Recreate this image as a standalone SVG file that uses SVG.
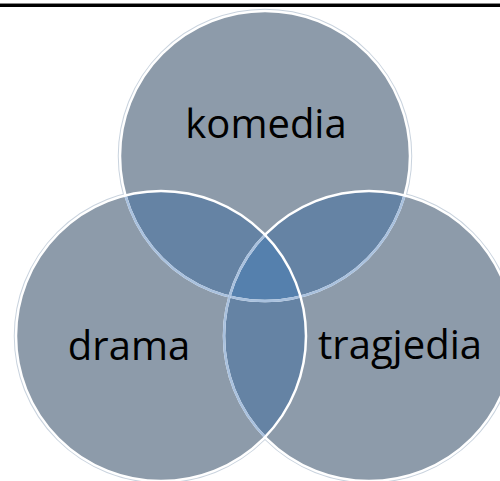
<svg xmlns="http://www.w3.org/2000/svg" width="500" height="481" viewBox="0 0 500 481">
<style>
.lbl{font-family:"Open Sans","Liberation Sans",sans-serif;font-size:40px;fill:#000;text-anchor:middle}
.halo{fill:none;stroke:#C9D3DE;stroke-width:4.5}
.ws{fill:none;stroke:#FFFFFF;stroke-width:2.5}
.bs{fill:none;stroke:#A9C1DE;stroke-width:2.5}
</style>
<defs>
<clipPath id="cT"><circle cx="265" cy="156" r="145"/></clipPath>
<clipPath id="cR"><circle cx="369" cy="336" r="145"/></clipPath>
<clipPath id="cL"><circle cx="161" cy="336" r="145"/></clipPath>
<clipPath id="cRL"><circle cx="369" cy="336" r="145"/><circle cx="161" cy="336" r="145"/></clipPath>
</defs>
<rect x="0" y="0" width="500" height="481" fill="#FFFFFF"/>
<rect x="0" y="3" width="500" height="1" fill="#888888"/>
<rect x="0" y="4" width="500" height="3" fill="#000000"/>
<g id="fills">
<circle class="halo" cx="265" cy="156" r="145"/>
<circle class="halo" cx="369" cy="336" r="145"/>
<circle class="halo" cx="161" cy="336" r="145"/>
<circle cx="265" cy="156" r="145" fill="#8D9BAA"/>
<circle cx="369" cy="336" r="145" fill="#8D9BAA"/>
<circle cx="161" cy="336" r="145" fill="#8D9BAA"/>
<circle cx="369" cy="336" r="145" fill="#6583A4" clip-path="url(#cT)"/>
<circle cx="161" cy="336" r="145" fill="#6583A4" clip-path="url(#cT)"/>
<circle cx="161" cy="336" r="145" fill="#6583A4" clip-path="url(#cR)"/>
<g clip-path="url(#cT)"><circle cx="161" cy="336" r="145" fill="#5580AD" clip-path="url(#cR)"/></g>
</g>
<g id="connectors"></g>
<g id="komedia">
<circle class="ws" cx="265" cy="156" r="145"/>
<circle class="bs" cx="265" cy="156" r="145" clip-path="url(#cRL)"/>
<text class="lbl" x="266" y="138">komedia</text>
</g>
<g id="tragjedia">
<circle class="ws" cx="369" cy="336" r="145"/>
<circle class="bs" cx="369" cy="336" r="145" clip-path="url(#cL)"/>
<text class="lbl" x="400" y="359">tragjedia</text>
</g>
<g id="drama">
<circle class="ws" cx="161" cy="336" r="145"/>
<text class="lbl" x="129" y="360">drama</text>
</g>
</svg>
